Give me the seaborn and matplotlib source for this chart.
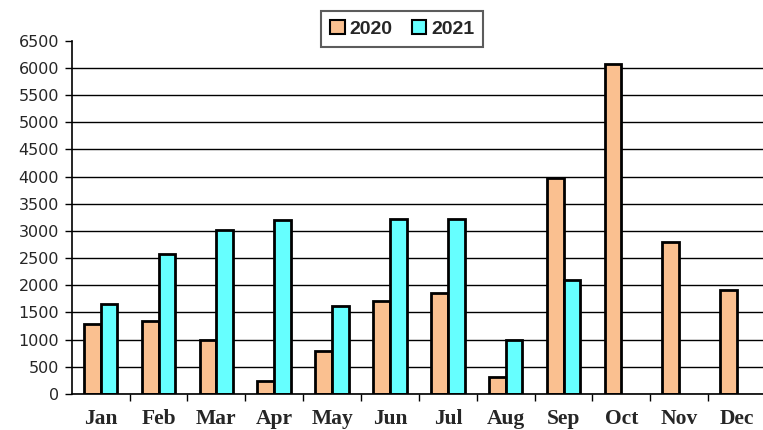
import numpy as np
import pandas as pd
import matplotlib
matplotlib.use("Agg")
import matplotlib.pyplot as plt
import seaborn as sns

# monthly values
months = ["Jan", "Feb", "Mar", "Apr", "May", "Jun", "Jul", "Aug", "Sep", "Oct", "Nov", "Dec"]
values_2020 = [1280, 1350, 1000, 240, 790, 1710, 1850, 310, 3980, 6080, 2800, 1920]
values_2021 = [1660, 2580, 3010, 3200, 1610, 3220, 3220, 1000, 2090, np.nan, np.nan, np.nan]

df = pd.DataFrame({
    "month": months * 2,
    "year": ["2020"] * 12 + ["2021"] * 12,
    "value": values_2020 + values_2021,
})

sns.set_style("white")
fig = plt.figure(figsize=(7.63, 4.30), dpi=100)
ax = fig.add_axes([0.094, 0.084, 0.91, 0.821])

sns.barplot(data=df, x="month", y="value", hue="year", order=months,
            palette={"2020": "#FAC090", "2021": "#66FFFF"},
            width=0.58, edgecolor="black", linewidth=2, errorbar=None,
            saturation=1, ax=ax)

ax.set_ylim(0, 6500)
ax.set_xlim(-0.5, 11.5)
ax.set_yticks(range(0, 6501, 500))
ax.set_yticklabels([str(v) for v in range(0, 6501, 500)], fontsize=11.5, family="DejaVu Sans")
ax.yaxis.grid(True, color="black", linewidth=1)
ax.get_ygridlines()[-1].set_visible(False)
ax.set_axisbelow(True)

# ticks between categories, labels at centers
ax.set_xticks(np.arange(0.5, 11, 1), minor=False)
ax.set_xticklabels([])
ax.set_xticks(range(12), minor=True)
ax.set_xticklabels(months, minor=True, fontsize=15.5, fontweight="bold", family="Liberation Serif")
ax.tick_params(axis="x", which="minor", length=0, pad=11)
ax.tick_params(axis="x", which="major", length=5, width=1, direction="out", color="black", bottom=True)
ax.tick_params(axis="y", length=5, width=1, direction="out", color="black", left=True, pad=4)

for s in ["top", "right"]:
    ax.spines[s].set_visible(False)
for s in ["left", "bottom"]:
    ax.spines[s].set_color("black")
    ax.spines[s].set_linewidth(1.2)

ax.set_xlabel("")
ax.set_ylabel("")

leg = ax.legend(loc="center", bbox_to_anchor=(0.476, 1.034), ncol=2, frameon=True,
                fancybox=False, edgecolor="#333333", handlelength=0.75, handleheight=0.75,
                columnspacing=1.0, handletextpad=0.25, borderpad=0.45,
                prop={"weight": "bold", "size": 14, "family": "Liberation Sans"})
leg.get_frame().set_linewidth(1.5)
for h in leg.legend_handles:
    h.set_linewidth(1.5)

fig.savefig("out.png", dpi=100)
